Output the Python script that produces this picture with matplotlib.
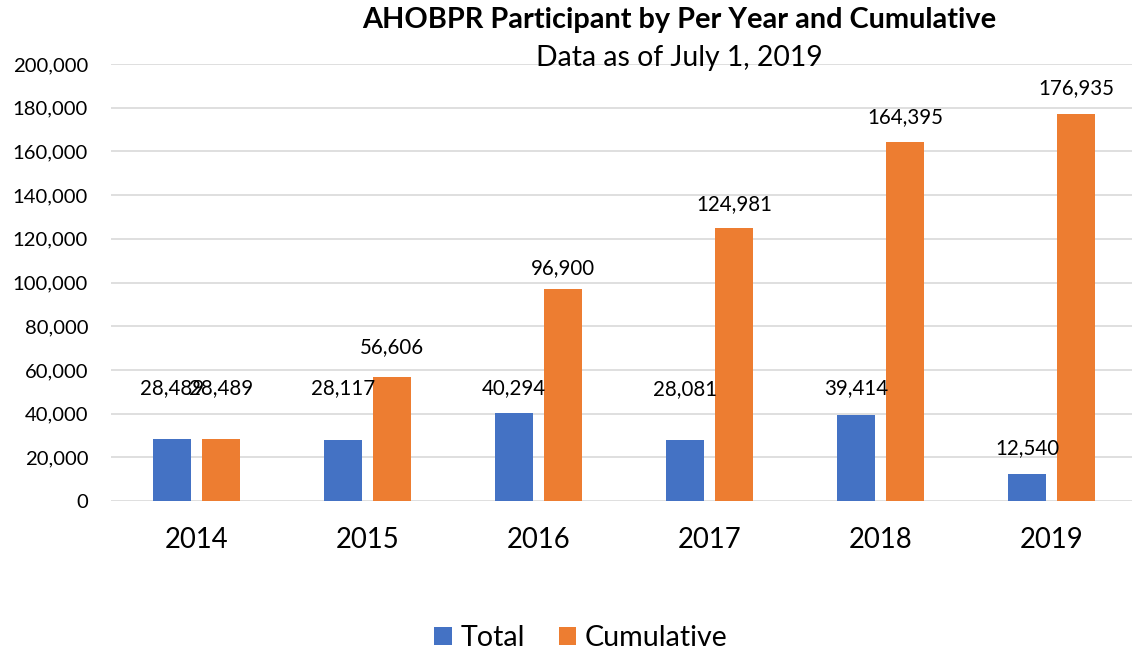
#!/usr/bin/env python3
"""AHOBPR participants per year and cumulative, as of July 1, 2019."""
import matplotlib
matplotlib.use("Agg")
import matplotlib.pyplot as plt
import numpy as np
from matplotlib.ticker import FuncFormatter

years = ["2014", "2015", "2016", "2017", "2018", "2019"]
total = [28489, 28117, 40294, 28081, 39414, 12540]
cumulative = [28489, 56606, 96900, 124981, 164395, 176935]

BLUE = "#4472C4"
ORANGE = "#ED7D31"
FONT = ["Lato", "DejaVu Sans"]

# label gap above bar top in pixels (Excel pushed the ~28k labels up)
total_gap = [51, 51, 25, 51, 27, 26]
cum_gap = [51, 30, 21, 24, 25, 26]

plt.rcParams["font.family"] = FONT

W, H = 1132, 654
fig = plt.figure(figsize=(W / 100, H / 100), dpi=100)
ax = fig.add_axes([111 / W, (H - 501) / H, (W - 111) / W, (501 - 64) / H])

x = np.arange(len(years))
bw = 0.222
off = 0.143
b1 = ax.bar(x - off, total, bw, color=BLUE, label="Total", zorder=3)
b2 = ax.bar(x + off, cumulative, bw, color=ORANGE, label="Cumulative", zorder=3)

for bars, vals, gaps in [(b1, total, total_gap), (b2, cumulative, cum_gap)]:
    for r, v, g in zip(bars, vals, gaps):
        ax.annotate(f"{v:,}", (r.get_x() + r.get_width() / 2, v),
                    xytext=(0, g * 0.72), textcoords="offset points",
                    ha="center", va="center", fontsize=14.8, color="#000000")

ax.set_ylim(0, 200000)
ax.set_yticks(np.arange(0, 200001, 20000))
ax.yaxis.set_major_formatter(FuncFormatter(lambda v, p: f"{int(v):,}"))
ax.set_xlim(-0.5, -0.5 + (W - 111) / 171)
ax.set_xticks(x)
ax.set_xticklabels(years)
ax.tick_params(axis="y", length=0, labelsize=14.6, pad=16.5)
ax.tick_params(axis="x", length=0, labelsize=19.8, pad=19)
ax.grid(axis="y", color="#D9D9D9", linewidth=1.2, zorder=0)
for s in ax.spines.values():
    s.set_visible(False)

fig.text(679 / W, 1 - 20 / H, "AHOBPR Participant by Per Year and Cumulative",
         ha="center", va="center", fontsize=20.8, fontweight="bold")
fig.text(679 / W, 1 - 58 / H, "Data as of July 1, 2019",
         ha="center", va="center", fontsize=20.4)

fig.legend(handles=[b1, b2], loc="center", bbox_to_anchor=(581 / W, 1 - 638 / H),
           ncol=2, frameon=False, fontsize=20.6, handlelength=0.6, handleheight=0.6,
           handletextpad=0.3, columnspacing=1.2)

fig.savefig("out.png", dpi=100)
